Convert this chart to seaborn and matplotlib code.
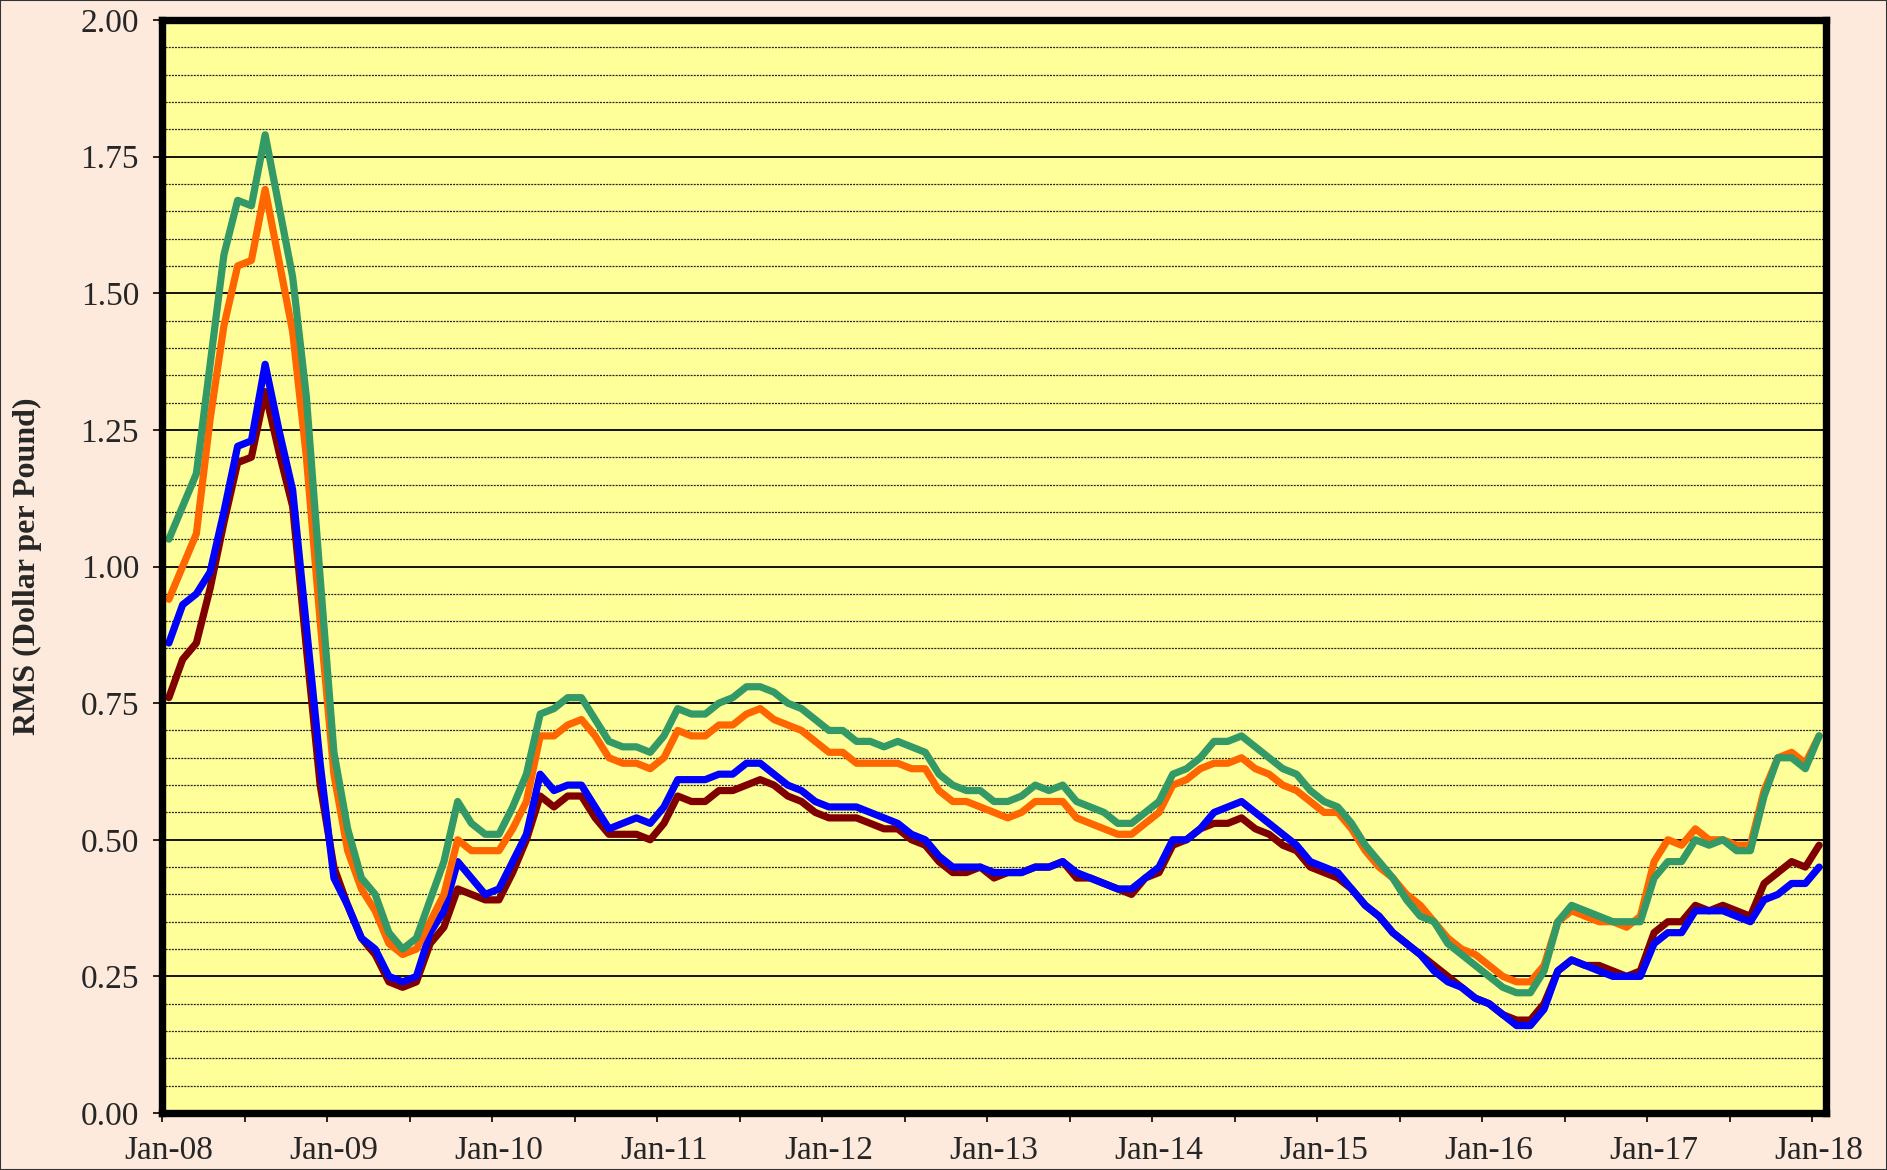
import numpy as np
import pandas as pd
import matplotlib
matplotlib.use("Agg")
import matplotlib.pyplot as plt
from matplotlib.patches import Rectangle
from matplotlib.ticker import MultipleLocator, FixedLocator
import seaborn as sns

# ---------------- data (monthly, Jan-08 .. Jan-18) ----------------
series_names = ["Series A", "Series B", "Series C", "Series D"]
series_colors = ["#800000", "#0000FF", "#FF6600", "#339966"]

series_a = [0.76, 0.83, 0.86, 0.96, 1.08, 1.19, 1.20, 1.32, 1.21, 1.11, 0.85, 0.60,
            0.45, 0.38, 0.32, 0.29, 0.24, 0.23, 0.24, 0.31, 0.34, 0.41, 0.40, 0.39,
            0.39, 0.44, 0.50, 0.58, 0.56, 0.58, 0.58, 0.54, 0.51, 0.51, 0.51, 0.50,
            0.53, 0.58, 0.57, 0.57, 0.59, 0.59, 0.60, 0.61, 0.60, 0.58, 0.57, 0.55,
            0.54, 0.54, 0.54, 0.53, 0.52, 0.52, 0.50, 0.49, 0.46, 0.44, 0.44, 0.45,
            0.43, 0.44, 0.44, 0.45, 0.45, 0.46, 0.43, 0.43, 0.42, 0.41, 0.40, 0.43,
            0.44, 0.49, 0.50, 0.52, 0.53, 0.53, 0.54, 0.52, 0.51, 0.49, 0.48, 0.45,
            0.44, 0.43, 0.41, 0.38, 0.36, 0.33, 0.31, 0.29, 0.27, 0.25, 0.23, 0.21,
            0.20, 0.18, 0.17, 0.17, 0.20, 0.26, 0.28, 0.27, 0.27, 0.26, 0.25, 0.26,
            0.33, 0.35, 0.35, 0.38, 0.37, 0.38, 0.37, 0.36, 0.42, 0.44, 0.46, 0.45,
            0.49]

series_b = [0.86, 0.93, 0.95, 0.99, 1.10, 1.22, 1.23, 1.37, 1.25, 1.14, 0.89, 0.64,
            0.43, 0.38, 0.32, 0.30, 0.25, 0.24, 0.25, 0.33, 0.37, 0.46, 0.43, 0.40,
            0.41, 0.46, 0.51, 0.62, 0.59, 0.60, 0.60, 0.56, 0.52, 0.53, 0.54, 0.53,
            0.56, 0.61, 0.61, 0.61, 0.62, 0.62, 0.64, 0.64, 0.62, 0.60, 0.59, 0.57,
            0.56, 0.56, 0.56, 0.55, 0.54, 0.53, 0.51, 0.50, 0.47, 0.45, 0.45, 0.45,
            0.44, 0.44, 0.44, 0.45, 0.45, 0.46, 0.44, 0.43, 0.42, 0.41, 0.41, 0.43,
            0.45, 0.50, 0.50, 0.52, 0.55, 0.56, 0.57, 0.55, 0.53, 0.51, 0.49, 0.46,
            0.45, 0.44, 0.41, 0.38, 0.36, 0.33, 0.31, 0.29, 0.26, 0.24, 0.23, 0.21,
            0.20, 0.18, 0.16, 0.16, 0.19, 0.26, 0.28, 0.27, 0.26, 0.25, 0.25, 0.25,
            0.31, 0.33, 0.33, 0.37, 0.37, 0.37, 0.36, 0.35, 0.39, 0.40, 0.42, 0.42,
            0.45]

series_c = [0.94, 1.00, 1.06, 1.27, 1.44, 1.55, 1.56, 1.69, 1.56, 1.43, 1.20, 0.90,
            0.62, 0.48, 0.41, 0.37, 0.31, 0.29, 0.30, 0.35, 0.40, 0.50, 0.48, 0.48,
            0.48, 0.52, 0.57, 0.69, 0.69, 0.71, 0.72, 0.69, 0.65, 0.64, 0.64, 0.63,
            0.65, 0.70, 0.69, 0.69, 0.71, 0.71, 0.73, 0.74, 0.72, 0.71, 0.70, 0.68,
            0.66, 0.66, 0.64, 0.64, 0.64, 0.64, 0.63, 0.63, 0.59, 0.57, 0.57, 0.56,
            0.55, 0.54, 0.55, 0.57, 0.57, 0.57, 0.54, 0.53, 0.52, 0.51, 0.51, 0.53,
            0.55, 0.60, 0.61, 0.63, 0.64, 0.64, 0.65, 0.63, 0.62, 0.60, 0.59, 0.57,
            0.55, 0.55, 0.52, 0.48, 0.45, 0.43, 0.40, 0.38, 0.35, 0.32, 0.30, 0.29,
            0.27, 0.25, 0.24, 0.24, 0.27, 0.35, 0.37, 0.36, 0.35, 0.35, 0.34, 0.36,
            0.46, 0.50, 0.49, 0.52, 0.50, 0.50, 0.49, 0.49, 0.59, 0.65, 0.66, 0.64,
            0.69]

series_d = [1.05, 1.11, 1.17, 1.37, 1.57, 1.67, 1.66, 1.79, 1.66, 1.53, 1.31, 0.98,
            0.66, 0.52, 0.43, 0.40, 0.33, 0.30, 0.32, 0.39, 0.46, 0.57, 0.53, 0.51,
            0.51, 0.56, 0.62, 0.73, 0.74, 0.76, 0.76, 0.72, 0.68, 0.67, 0.67, 0.66,
            0.69, 0.74, 0.73, 0.73, 0.75, 0.76, 0.78, 0.78, 0.77, 0.75, 0.74, 0.72,
            0.70, 0.70, 0.68, 0.68, 0.67, 0.68, 0.67, 0.66, 0.62, 0.60, 0.59, 0.59,
            0.57, 0.57, 0.58, 0.60, 0.59, 0.60, 0.57, 0.56, 0.55, 0.53, 0.53, 0.55,
            0.57, 0.62, 0.63, 0.65, 0.68, 0.68, 0.69, 0.67, 0.65, 0.63, 0.62, 0.59,
            0.57, 0.56, 0.53, 0.49, 0.46, 0.43, 0.39, 0.36, 0.35, 0.31, 0.29, 0.27,
            0.25, 0.23, 0.22, 0.22, 0.26, 0.35, 0.38, 0.37, 0.36, 0.35, 0.35, 0.35,
            0.43, 0.46, 0.46, 0.50, 0.49, 0.50, 0.48, 0.48, 0.58, 0.65, 0.65, 0.63,
            0.69]

x_tick_labels = ["Jan-08", "Jan-09", "Jan-10", "Jan-11", "Jan-12", "Jan-13",
                 "Jan-14", "Jan-15", "Jan-16", "Jan-17", "Jan-18"]
y_tick_values = [0.00, 0.25, 0.50, 0.75, 1.00, 1.25, 1.50, 1.75, 2.00]
y_label = "RMS (Dollar per Pound)"

# ---------------- build table ----------------
dates = pd.date_range("2008-01-01", periods=len(series_a), freq="MS")
month_pos = (dates.year - 2008) * 12 + (dates.month - 1) + 0.5  # mid-month position

frames = []
for name, vals in zip(series_names, [series_a, series_b, series_c, series_d]):
    frames.append(pd.DataFrame({"month": month_pos, "value": vals, "series": name}))
df = pd.concat(frames, ignore_index=True)

# ---------------- style ----------------
sns.set_style("white")
plt.rcParams["font.family"] = ["Liberation Serif", "DejaVu Serif"]

W, H = 1887, 1170
fig = plt.figure(figsize=(W / 100, H / 100), dpi=100)
fig.patch.set_facecolor("#FDEADD")

left, right, top, bottom = 162, 1826, 20, 1113
ax = fig.add_axes([left / W, 1 - bottom / H, (right - left) / W, (bottom - top) / H])
ax.set_facecolor("#FFFF99")

sns.lineplot(data=df, x="month", y="value", hue="series", hue_order=series_names,
             palette=series_colors, estimator=None, sort=False, linewidth=5.2,
             legend=False, ax=ax)
for ln in ax.get_lines():
    ln.set_solid_joinstyle("round")
    ln.set_solid_capstyle("round")
    ln.set_zorder(3)

ax.set_xlim(0, 121)
ax.set_ylim(0, 2.0)

# y axis
ax.yaxis.set_major_locator(FixedLocator(y_tick_values))
ax.set_yticklabels([f"{v:.2f}" for v in y_tick_values])
ax.yaxis.set_minor_locator(MultipleLocator(0.05))
ax.grid(axis="y", which="major", color="black", linewidth=1.3, linestyle="-", zorder=1)
ax.grid(axis="y", which="minor", color="#222222", linewidth=0.9,
        linestyle=(0, (1.6, 0.9)), zorder=1)
ax.grid(axis="x", which="both", visible=False)
ax.set_axisbelow(True)

# x axis: ticks every 6 months, labels under each January
ax.xaxis.set_major_locator(FixedLocator(np.arange(0, 121, 6)))
ax.xaxis.set_major_formatter(plt.NullFormatter())
label_pos = [12 * k + 0.5 for k in range(len(x_tick_labels))]
ax.set_xticks(label_pos, minor=True)
ax.set_xticklabels(x_tick_labels, minor=True)

ax.tick_params(axis="y", which="major", direction="out", length=6.5, width=1.2,
               color="black", labelsize=24, pad=10, left=True)
ax.tick_params(axis="y", which="minor", length=0, left=False)
ax.tick_params(axis="x", which="major", direction="out", length=6.5, width=1.2,
               color="black", bottom=True)
ax.tick_params(axis="x", which="minor", length=0, labelsize=24, pad=16)

for s in ax.spines.values():
    s.set_visible(True)
    s.set_color("black")
    s.set_linewidth(5.3)
    s.set_zorder(5)

ax.set_xlabel("")
ax.set_ylabel(y_label, fontsize=23, fontweight="bold")
ax.yaxis.set_label_coords((42 - left) / (right - left), 0.5)

fig.patches.append(Rectangle((0, 0), 1, 1, transform=fig.transFigure, fill=False,
                             edgecolor="#333333", linewidth=1.5, zorder=10))

fig.savefig("out.png", dpi=100, facecolor=fig.get_facecolor())
